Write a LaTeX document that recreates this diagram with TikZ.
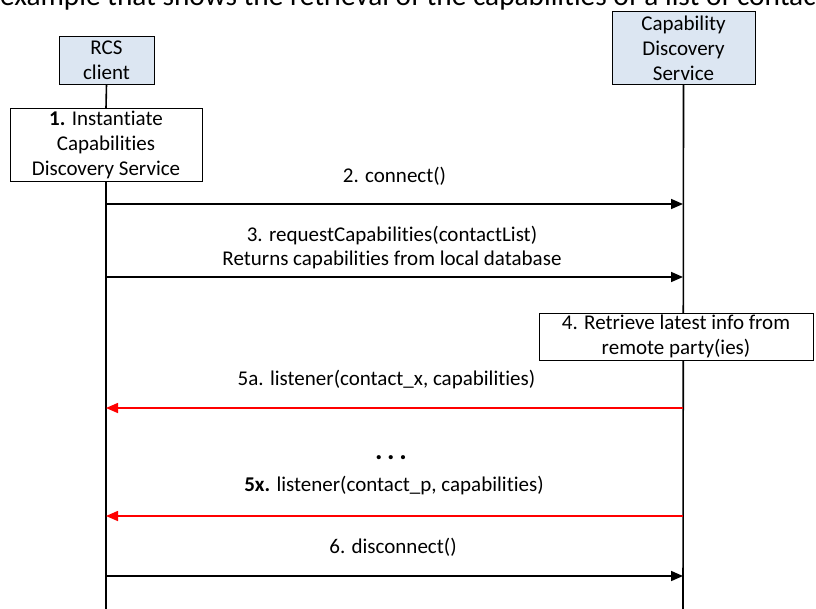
\documentclass[tikz,border=0pt]{standalone}
\usepackage{fontspec}
\setmainfont[RawFeature={-liga}]{Carlito}
\usetikzlibrary{arrows.meta}
\definecolor{boxfill}{RGB}{220,230,242}
\definecolor{msgred}{RGB}{255,0,0}
\begin{document}
\begin{tikzpicture}[x=1pt,y=-1pt,
  box/.style={draw=black, line width=0.8pt, fill=white, align=center, inner sep=0pt, font=\fontsize{21}{25}\selectfont},
  actor/.style={box, fill=boxfill},
  lab/.style={font=\fontsize{21}{23.5}\selectfont, align=center, inner sep=0pt},
  msg/.style={line width=1.6pt, -{Triangle[length=12pt,width=10pt]}},
  redmsg/.style={msg, draw=msgred, -{Triangle[length=12pt,width=10pt,fill=msgred]}},
  lifeline/.style={line width=1.6pt}]
\useasboundingbox (0,0) rectangle (816,608);
\clip (0,0) rectangle (816,608);
\node[anchor=base west, inner sep=0pt, font=\fontsize{29.3}{31}\selectfont] (title) at (0,5.5) {example that shows the retrieval of the capabilities of a list of contacts};
% actors
\node[actor, minimum width=95pt, minimum height=48pt] (rcs) at (106.5,60) {RCS\\client};
\node[box, minimum width=192pt, minimum height=73pt] (inst) at (106,145) {\textbf{1.} Instantiate\\Capabilities\\Discovery Service};
\node[actor, minimum width=143pt, minimum height=73pt] (cds) at (683.5,48) {Capability\\Discovery\\Service};
% lifelines
\coordinate (rend) at (106,610);
\coordinate (cend) at (683,610);
\draw[lifeline] (rcs.south) -- (inst.north);
\draw[lifeline] (inst.south) -- (rend);
\draw[lifeline] (cds.south) -- (cend);
\node[box, minimum width=274pt, minimum height=47pt] (retr) at (676,336.5) {4. Retrieve latest info from\\remote party(ies)};
% messages
\coordinate (l2) at (106,204); \coordinate (r2) at (683,204);
\coordinate (l3) at (106,277); \coordinate (r3) at (683,277);
\coordinate (l5a) at (106,408); \coordinate (r5a) at (683,408);
\coordinate (l5x) at (106,516); \coordinate (r5x) at (683,516);
\coordinate (l6) at (106,576); \coordinate (r6) at (683,576);
\draw[msg] (l2) -- (r2);
\draw[msg] (l3) -- (r3);
\draw[redmsg] (r5a) -- (l5a);
\draw[redmsg] (r5x) -- (l5x);
\draw[msg] (l6) -- (r6);
% labels
\node[lab] (t2) at (394.5,176) {2. connect()};
\node[lab] (t3) at (392,247.5) {3. requestCapabilities(contactList)\\Returns capabilities from local database};
\node[lab] (t5a) at (386.5,380) {5a. listener(contact\_x, capabilities)};
\node[lab, font=\fontsize{28}{28}\selectfont\bfseries, anchor=base] (dots) at (391,459) {.\,.\,.};
\node[lab] (t5x) at (394,486) {\textbf{5x.} listener(contact\_p, capabilities)};
\node[lab] (t6) at (393,547) {6. disconnect()};
\end{tikzpicture}
\end{document}
